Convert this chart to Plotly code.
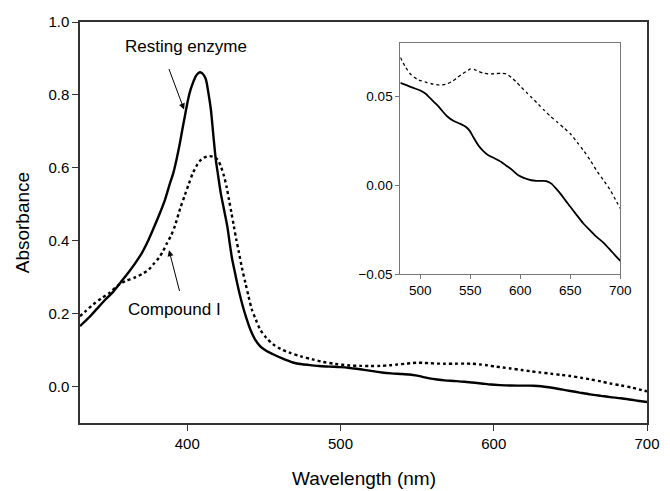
import plotly.graph_objects as go

# Main spectrum data (wavelength nm, absorbance)
rest_wl = [330, 336, 341, 346, 351, 357.7, 362, 366.3, 370.6, 374.9, 378, 381.3, 385.5, 388, 390.9, 393, 395.2, 397, 398.4, 400.5, 402.2, 403.7, 405.5, 407, 408.2, 409.5, 411, 412.2, 413.8, 415.4, 417, 418.6, 420.2, 421.8, 424, 426.1, 427.8, 429.3, 431, 432.5, 434.7, 436.8, 439, 441.1, 444, 447.5, 451.5, 456, 462, 468.9, 475, 481.7,
           486, 493, 500, 505, 509, 514, 519, 523, 527, 533, 540, 545, 549, 553, 558, 563, 568, 574, 581, 586, 592, 598, 604, 611, 616, 621, 626, 631, 636, 640, 645, 650, 656, 663, 670, 676, 683, 690, 695, 700]
rest_ab = [0.166, 0.19, 0.213, 0.236, 0.257, 0.292, 0.315, 0.34, 0.368, 0.404, 0.434, 0.467, 0.513, 0.548, 0.586, 0.623, 0.668, 0.71, 0.741, 0.787, 0.815, 0.833, 0.851, 0.859, 0.862, 0.860, 0.853, 0.842, 0.805, 0.76, 0.69, 0.623, 0.577, 0.532, 0.485, 0.44, 0.39, 0.349, 0.315, 0.285, 0.245, 0.212, 0.182, 0.157, 0.131, 0.111, 0.098, 0.0885, 0.077, 0.066, 0.061, 0.058,
           0.0562, 0.0547, 0.0532, 0.0515, 0.0494, 0.0466, 0.0438, 0.0410, 0.0386, 0.0362, 0.0345, 0.0330, 0.0308, 0.0270, 0.0224, 0.0192, 0.0168, 0.0152, 0.0131, 0.0110, 0.0085, 0.0056, 0.0040, 0.0028, 0.0025, 0.0024, 0.0023, 0.0009, -0.0020, -0.0047, -0.0085, -0.0121, -0.0165, -0.0215, -0.0255, -0.0289, -0.0322, -0.0364, -0.0395, -0.0425]

cmpd_wl = [330, 334, 338.5, 344, 349.2, 355.6, 360, 366.3, 371, 374.9, 378, 381.3, 384, 386.6, 389.5, 391.9, 393, 395.5, 398.4, 401, 403.7, 406, 408, 411, 414.4, 417, 419.7, 422, 424, 425.7, 427.2, 428.8, 430.4, 432, 433.6, 435.7, 437.9, 440, 442.1, 444.8, 447.5, 451.5, 456, 461, 466.7, 474, 481.7, 488, 496.6,
           506, 513, 519, 526, 532, 537, 542, 546, 550, 554, 558, 563, 568, 575, 581, 586, 591, 596, 601, 606, 611, 618, 624, 630, 637, 644, 650, 657, 663, 670, 676, 683, 690, 695, 700]
cmpd_ab = [0.193, 0.208, 0.225, 0.242, 0.257, 0.28, 0.29, 0.300, 0.31, 0.321, 0.336, 0.352, 0.37, 0.392, 0.415, 0.44, 0.455, 0.49, 0.525, 0.556, 0.586, 0.605, 0.618, 0.628, 0.632, 0.63, 0.623, 0.603, 0.577, 0.547, 0.513, 0.477, 0.44, 0.403, 0.37, 0.325, 0.285, 0.247, 0.212, 0.183, 0.157, 0.134, 0.116, 0.103, 0.093, 0.083, 0.0745, 0.068, 0.062,
           0.0578, 0.0568, 0.0563, 0.0568, 0.0584, 0.0605, 0.0625, 0.0640, 0.0653, 0.0650, 0.0640, 0.0630, 0.0625, 0.0627, 0.0629, 0.0625, 0.0606, 0.0580, 0.0550, 0.0522, 0.0494, 0.0455, 0.0420, 0.0388, 0.0354, 0.0320, 0.0289, 0.0240, 0.0196, 0.0140, 0.0084, 0.0030, -0.0028, -0.0080, -0.0131]

# Inset data (480-700 nm)
rest_in_wl = [480, 486, 493, 500, 505, 509, 514, 519, 523, 527, 533, 540, 545, 549, 553, 558, 563, 568, 574, 581, 586, 592, 598, 604, 611, 616, 621, 626, 631, 636, 640, 645, 650, 656, 663, 670, 676, 683, 690, 695, 700]
rest_in_ab = [0.0575, 0.0562, 0.0547, 0.0532, 0.0515, 0.0494, 0.0466, 0.0438, 0.0410, 0.0386, 0.0362, 0.0345, 0.0330, 0.0308, 0.0270, 0.0224, 0.0192, 0.0168, 0.0152, 0.0131, 0.0110, 0.0085, 0.0056, 0.0040, 0.0028, 0.0025, 0.0024, 0.0023, 0.0009, -0.0020, -0.0047, -0.0085, -0.0121, -0.0165, -0.0215, -0.0255, -0.0289, -0.0322, -0.0364, -0.0395, -0.0425]

cmpd_in_wl = [480, 485, 490, 497, 506, 513, 519, 526, 532, 537, 542, 546, 550, 554, 558, 563, 568, 575, 581, 586, 591, 596, 601, 606, 611, 618, 624, 630, 637, 644, 650, 657, 663, 670, 676, 683, 690, 695, 700]
cmpd_in_ab = [0.0718, 0.0665, 0.0625, 0.0595, 0.0578, 0.0568, 0.0563, 0.0568, 0.0584, 0.0605, 0.0625, 0.0640, 0.0653, 0.0650, 0.0640, 0.0630, 0.0625, 0.0627, 0.0629, 0.0625, 0.0606, 0.0580, 0.0550, 0.0522, 0.0494, 0.0455, 0.0420, 0.0388, 0.0354, 0.0320, 0.0289, 0.0240, 0.0196, 0.0140, 0.0084, 0.0030, -0.0028, -0.0080, -0.0131]

main_xticks = [400, 500, 600, 700]
main_yticks = [0.0, 0.2, 0.4, 0.6, 0.8, 1.0]
inset_xticks = [500, 550, 600, 650, 700]
inset_yticks = [-0.05, 0.00, 0.05]

FONT = "Liberation Sans, Arial, sans-serif"

fig = go.Figure()
fig.add_trace(go.Scatter(x=rest_wl, y=rest_ab, mode="lines", line=dict(color="black", width=2.4, shape="spline", smoothing=0.8), showlegend=False))
fig.add_trace(go.Scatter(x=cmpd_wl, y=cmpd_ab, mode="lines", line=dict(color="black", width=2.4, dash="dot", shape="spline", smoothing=0.8), showlegend=False))
fig.add_trace(go.Scatter(x=rest_in_wl, y=rest_in_ab, mode="lines", xaxis="x2", yaxis="y2", line=dict(color="black", width=1.8, shape="spline", smoothing=0.6), showlegend=False))
fig.add_trace(go.Scatter(x=cmpd_in_wl, y=cmpd_in_ab, mode="lines", xaxis="x2", yaxis="y2", line=dict(color="black", width=1.3, dash="dot", shape="spline", smoothing=0.6), showlegend=False))

fig.update_layout(
    width=670, height=491,
    margin=dict(l=80, r=12, t=22, b=67.5),
    paper_bgcolor="white", plot_bgcolor="white",
    font=dict(family=FONT, color="black"),
    xaxis=dict(range=[330, 700], tickvals=main_xticks, ticks="outside", ticklen=6, tickcolor="#333", automargin=False,
               showline=True, linecolor="#333", linewidth=1.5, mirror=True, showgrid=False, zeroline=False,
               tickfont=dict(size=15)),
    yaxis=dict(range=[-0.1, 1.0], tickvals=main_yticks, tickformat=".1f", ticks="outside", ticklen=6, tickcolor="#333", automargin=False,
               showline=True, linecolor="#333", linewidth=1.5, mirror=True, showgrid=False, zeroline=False,
               tickfont=dict(size=15)),
    xaxis2=dict(domain=[0.565, 0.953], anchor="y2", range=[480, 700], tickvals=inset_xticks, ticks="outside", ticklen=4,
                tickcolor="#777", showline=True, linecolor="#777", linewidth=1, mirror=True, showgrid=False, zeroline=False,
                tickfont=dict(size=13.5)),
    yaxis2=dict(domain=[0.371, 0.948], anchor="x2", range=[-0.05, 0.08], tickvals=inset_yticks, tickformat=".2f", ticks="outside", ticklen=4,
                tickcolor="#777", showline=True, linecolor="#777", linewidth=1, mirror=True, showgrid=False, zeroline=False,
                tickfont=dict(size=13.5)),
)

# Axis titles
fig.add_annotation(x=0.5, y=-0.1385, xref="paper", yref="paper", text="Wavelength (nm)", showarrow=False,
                   font=dict(size=19, family=FONT), xanchor="center", yanchor="middle")
fig.add_annotation(x=-0.1009, y=0.5, xref="paper", yref="paper", text="Absorbance", showarrow=False, textangle=-90,
                   font=dict(size=19, family=FONT), xanchor="center", yanchor="middle")

# Curve labels with arrows
fig.add_annotation(x=399, y=0.932, text="Resting enzyme", showarrow=False, font=dict(size=17, family=FONT), xref="x", yref="y")
fig.add_annotation(x=397.9, y=0.76, ax=387.7, ay=0.875, axref="x", ayref="y", xref="x", yref="y", text="",
                   showarrow=True, arrowhead=2, arrowsize=1.2, arrowwidth=1, arrowcolor="black")
fig.add_annotation(x=391.5, y=0.212, text="Compound I", showarrow=False, font=dict(size=17, family=FONT), xref="x", yref="y")
fig.add_annotation(x=388.1, y=0.374, ax=395.2, ay=0.258, axref="x", ayref="y", xref="x", yref="y", text="",
                   showarrow=True, arrowhead=2, arrowsize=1.2, arrowwidth=1, arrowcolor="black")

fig.write_html("out.html", config={"displayModeBar": False},
               post_script="document.body.style.margin='0px';document.body.style.overflow='hidden';")
